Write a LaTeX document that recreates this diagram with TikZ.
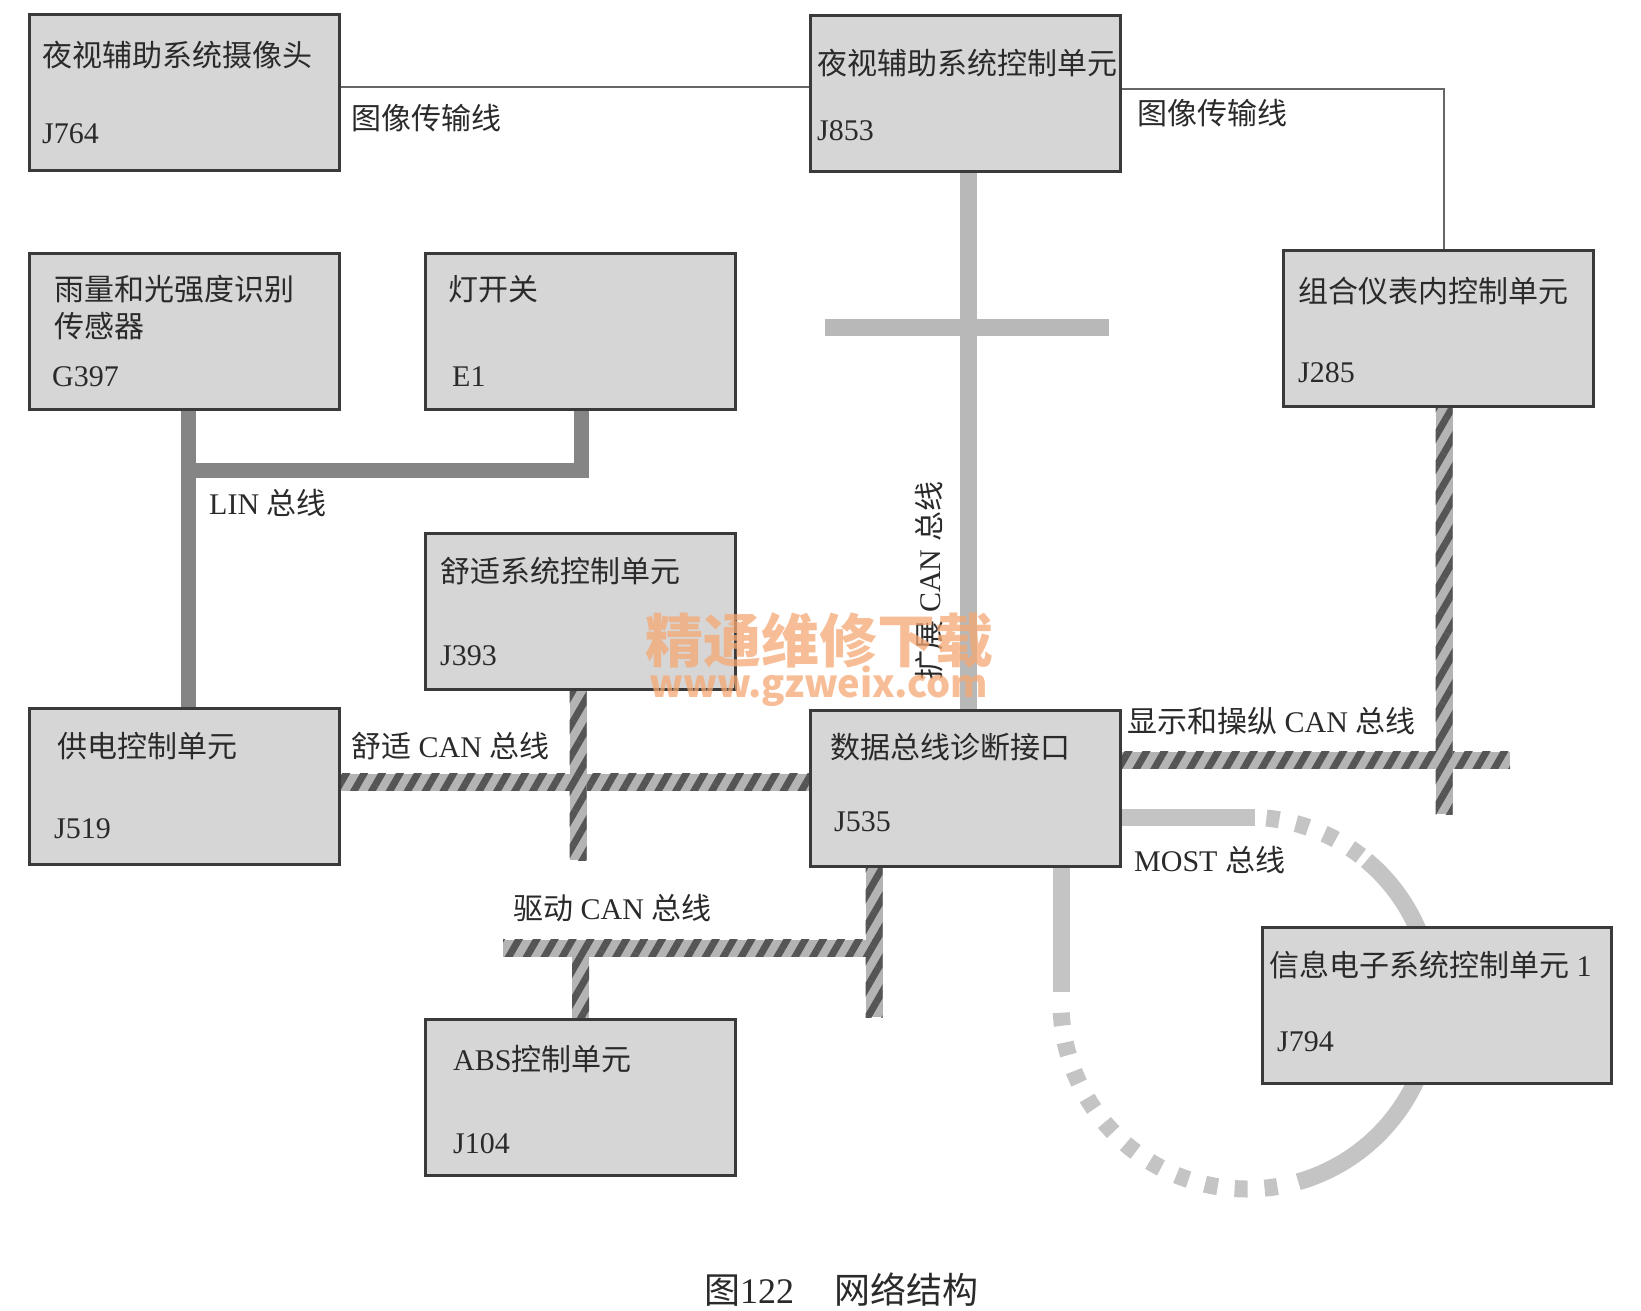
\documentclass[tikz,border=0pt]{standalone}
\usepackage{fontspec}
\setmainfont{Liberation Serif}
\newfontfamily\cjk{Noto Sans CJK SC}
\usetikzlibrary{patterns.meta,calc}
\pgfdeclarelayer{back}
\pgfdeclarelayer{bg}
\pgfsetlayers{back,bg,main}
\definecolor{boxfill}{HTML}{D6D6D6}
\definecolor{boxline}{HTML}{3A3A3A}
\definecolor{textcol}{HTML}{2A2A2A}
\definecolor{imgcol}{HTML}{666666}
\definecolor{lincol}{HTML}{858585}
\definecolor{extcol}{HTML}{B8B8B8}
\definecolor{mostcol}{HTML}{C4C4C4}
\definecolor{hatchbg}{HTML}{B4B4B4}
\definecolor{hatchfg}{HTML}{555555}
\definecolor{wmark}{HTML}{F5A873}
\newcommand\hatchH[2]{\path[hatchbus] let \p1=#1, \p2=#2 in (\x1,\y1+8.5pt) rectangle (\x2,\y2-8.5pt);}
\newcommand\hatchV[2]{\path[hatchbus] let \p1=#1, \p2=#2 in (\x1-8.5pt,\y1) rectangle (\x2+8.5pt,\y2);}
\begin{document}
\begin{tikzpicture}[x=1pt,y=-1pt,
  ecu/.style={draw=boxline, line width=3pt, fill=boxfill, minimum width=310pt, minimum height=156pt, anchor=north west, inner sep=0pt},
  txt/.style={anchor=west, inner sep=0pt, text=textcol, font=\fontsize{30}{36}\selectfont},
  imgline/.style={draw=imgcol, line width=2pt},
  linbus/.style={draw=lincol, line width=15pt},
  extbus/.style={draw=extcol, line width=17pt},
  mostbus/.style={draw=mostcol, line width=17pt},
  mostdash/.style={draw=mostcol, line width=17pt, dash pattern=on 13pt off 17pt},
  hatchbus/.style={fill=hatchbg, postaction={pattern={Lines[angle=60,distance=15.5pt,line width=7pt]}, pattern color=hatchfg}}
]
\useasboundingbox (0,0) rectangle (1641,1311);
\begin{pgfonlayer}{back}
\fill[white] (0,0) rectangle (1641,1311);
\end{pgfonlayer}

% boxes
\node[ecu] (J764) at (28,13) {};
\node[ecu] (J853) at (809,14) {};
\node[ecu] (G397) at (28,252) {};
\node[ecu] (E1) at (424,252) {};
\node[ecu] (J285) at (1282,249) {};
\node[ecu] (J393) at (424,532) {};
\node[ecu] (J519) at (28,707) {};
\node[ecu] (J535) at (809,709) {};
\node[ecu] (J104) at (424,1018) {};
\node[ecu, minimum width=349pt] (J794) at (1261,926) {};

% box texts
\node[txt] (J764t) at ($(J764.north west)+(14,42)$) {\cjk 夜视辅助系统摄像头};
\node[txt] (J764i) at ($(J764.north west)+(14,121)$) {J764};
\node[txt] (J853t) at ($(J853.north west)+(8,49)$) {\cjk 夜视辅助系统控制单元};
\node[txt] (J853i) at ($(J853.north west)+(8,117)$) {J853};
\node[txt] (G397t) at ($(G397.north west)+(26,37)$) {\cjk 雨量和光强度识别};
\node[txt] (G397s) at ($(G397.north west)+(26,74)$) {\cjk 传感器};
\node[txt] (G397i) at ($(G397.north west)+(24,125)$) {G397};
\node[txt] (E1t) at ($(E1.north west)+(24,37)$) {\cjk 灯开关};
\node[txt] (E1i) at ($(E1.north west)+(28,125)$) {E1};
\node[txt] (J285t) at ($(J285.north west)+(16,42)$) {\cjk 组合仪表内控制单元};
\node[txt] (J285i) at ($(J285.north west)+(16,124)$) {J285};
\node[txt] (J393t) at ($(J393.north west)+(16,39)$) {\cjk 舒适系统控制单元};
\node[txt] (J393i) at ($(J393.north west)+(16,124)$) {J393};
\node[txt] (J519t) at ($(J519.north west)+(29,39)$) {\cjk 供电控制单元};
\node[txt] (J519i) at ($(J519.north west)+(26,122)$) {J519};
\node[txt] (J535t) at ($(J535.north west)+(21,38)$) {\cjk 数据总线诊断接口};
\node[txt] (J535i) at ($(J535.north west)+(25,113)$) {J535};
\node[txt] (J104t) at ($(J104.north west)+(29,41)$) {ABS{\cjk 控制单元}};
\node[txt] (J104i) at ($(J104.north west)+(29,126)$) {J104};
\node[txt] (J794t) at ($(J794.north west)+(8,39)$) {{\cjk 信息电子系统控制单元} 1};
\node[txt] (J794i) at ($(J794.north west)+(16,116)$) {J794};

% bus labels
\node[txt] (img1l) at (351,118) {\cjk 图像传输线};
\node[txt] (img2l) at (1137,113) {\cjk 图像传输线};
\node[txt] (linl) at (209,503) {LIN {\cjk 总线}};
\node[txt] (cmfl) at (351,746) {{\cjk 舒适} CAN {\cjk 总线}};
\node[txt] (drvl) at (513,908) {{\cjk 驱动} CAN {\cjk 总线}};
\node[txt] (dspl) at (1127,721) {{\cjk 显示和操纵} CAN {\cjk 总线}};
\node[txt] (mostl) at (1134,860) {MOST {\cjk 总线}};
\node[txt, anchor=center, rotate=90] (extl) at (929,581) {{\cjk 扩展} CAN {\cjk 总线}};

% named junctions
\coordinate (img1) at (0,87);
\coordinate (img2) at (1444,89);
\coordinate (linA) at (188,470);
\coordinate (linB) at (581,470);
\coordinate (extX) at (968,327);
\coordinate (extL) at (825,327);
\coordinate (extR) at (1109,327);
\coordinate (cmf) at (578,782);
\coordinate (cmfE) at (578,860);
\coordinate (drvA) at (874,948);
\coordinate (drvE) at (874,1017);
\coordinate (drvW) at (503,948);
\coordinate (drvR) at (882.5,948);
\coordinate (dsp) at (1444,760);
\coordinate (dspR) at (1510,760);
\coordinate (dspE) at (1444,814);
\coordinate (mostH) at (1255,817);
\coordinate (mostV) at (1061,992);
\coordinate (ringC) at (1247,1003);

\begin{pgfonlayer}{bg}
% image lines
\draw[imgline] (J764.east |- img1) -- (J853.west |- img1);
\draw[imgline] (J853.east |- img2) -- (img2) -- (J285.north -| img2);
% LIN
\draw[linbus] (G397.south -| linA) -- (J519.north -| linA);
\draw[linbus] (E1.south -| linB) -- (linB) -- (linA);
% extended CAN
\draw[extbus] (J853.south -| extX) -- (J535.north -| extX);
\draw[extbus] (extL) -- (extR);
% comfort CAN
\hatchH{(J519.east |- cmf)}{(J535.west |- cmf)}
\hatchV{(J393.south -| cmf)}{(cmfE)}
% drive CAN
\hatchV{(J535.south -| drvA)}{(drvE)}
\hatchH{(drvW)}{(drvR)}
\hatchV{(J104.north |- drvW)}{(J104.north)}
% display CAN
\hatchH{(J535.east |- dsp)}{(dspR)}
\hatchV{(J285.south -| dsp)}{(dspE)}
% MOST
\draw[mostbus] (J535.east |- mostH) -- (mostH);
\draw[mostbus] (J535.south -| mostV) -- (mostV);
\draw[mostbus] ([shift={(-50:186)}]ringC) arc[start angle=-50, end angle=74, radius=186];
\draw[mostdash] ([shift={(-84:186)}]ringC) arc[start angle=-84, end angle=-50, radius=186];
\draw[mostdash] ([shift={(-183:186)}]ringC) arc[start angle=-183, end angle=-284, radius=186];
\end{pgfonlayer}

% watermark
\node[text=wmark, opacity=0.75, inner sep=0pt, font=\fontsize{58}{60}\selectfont\cjk\bfseries] (wm1) at (819,641) {精通维修下载};
\node[text=wmark, opacity=0.75, inner sep=0pt, font=\fontsize{38}{40}\selectfont\cjk\bfseries] (wm2) at (819,686) {www.gzweix.com};

% caption
\node[inner sep=0pt, text=textcol, font=\fontsize{36}{40}\selectfont] (cap) at (841,1290) {{\cjk 图}122\hspace{40pt}{\cjk 网络结构}};
\end{tikzpicture}
\end{document}
